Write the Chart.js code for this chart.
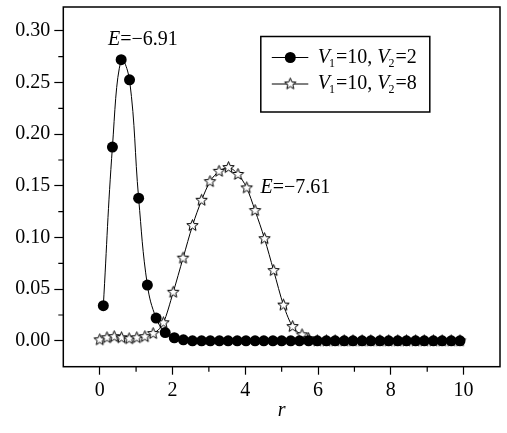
<!DOCTYPE html>
<html>
<head>
<meta charset="utf-8">
<script src="https://cdn.jsdelivr.net/npm/chart.js@4/dist/chart.umd.min.js"></script>
<style>
html,body{margin:0;padding:0;background:#fff;}
#wrap{width:507px;height:433px;}
</style>
</head>
<body>
<div id="wrap"><canvas id="c" width="507" height="433"></canvas></div>
<script>
// ---- data ----
const circleR = [0.10,0.35,0.59,0.82,1.07,1.31,1.55,1.80,2.05,2.30,2.55,2.80,3.04,3.29,3.53,3.78,4.02,4.27,4.51,4.76,5.00,5.25,5.49,5.74,5.98,6.23,6.47,6.72,6.96,7.21,7.45,7.70,7.94,8.19,8.43,8.68,8.92,9.17,9.41,9.66,9.90];
const circleV = [0.034,0.1875,0.272,0.2525,0.138,0.054,0.022,0.008,0.003,0.001,0,0,0,0,0,0,0,0,0,0,0,0,0,0,0,0,0,0,0,0,0,0,0,0,0,0,0,0,0,0,0];
const starR = [0.00,0.20,0.40,0.60,0.81,1.02,1.24,1.47,1.75,2.02,2.29,2.55,2.80,3.03,3.28,3.54,3.80,4.04,4.27,4.53,4.78,5.05,5.30,5.56,5.74,5.98,6.23,6.47,6.72,6.96,7.21,7.45,7.70,7.94,8.19,8.43,8.68,8.92,9.17,9.41,9.66,9.90];
const starV = [0.001,0.003,0.004,0.003,0.002,0.003,0.004,0.007,0.0175,0.047,0.080,0.1115,0.136,0.154,0.164,0.1676,0.161,0.148,0.126,0.0988,0.068,0.0346,0.0138,0.0058,0.002,0,0,0,0,0,0,0,0,0,0,0,0,0,0,0,0,0];
const xTicks = [0,2,4,6,8,10];
const xMinor = [1,3,5,7,9];
const yTicks = [0,0.05,0.10,0.15,0.20,0.25,0.30];
const yMinor = [0.025,0.075,0.125,0.175,0.225,0.275];
const seriesLabels = [["V","1","=10, ","V","2","=2"],["V","1","=10, ","V","2","=8"]];
const energyLabels = [{text:"=\u22126.91", r:0.23, v:0.2916},{text:"=\u22127.61", r:4.42, v:0.148}];

const SERIF = '"Liberation Serif","DejaVu Serif",serif';
const FS = 20;

function makeStar(outer, inner){
  const s = Math.ceil(outer*2+3);
  const cv = document.createElement('canvas');
  cv.width = s; cv.height = s;
  const g = cv.getContext('2d');
  g.translate(s/2, s/2);
  g.beginPath();
  for(let i=0;i<10;i++){
    const rr = i%2===0 ? outer : inner;
    const a = -Math.PI/2 + i*Math.PI/5;
    const px = rr*Math.cos(a), py = rr*Math.sin(a);
    if(i===0) g.moveTo(px,py); else g.lineTo(px,py);
  }
  g.closePath();
  g.fillStyle = '#fff'; g.fill();
  g.strokeStyle = '#000'; g.lineWidth = 1; g.stroke();
  return cv;
}
const starImg = makeStar(6, 2.6);

const decor = {
  id:'decor',
  afterDraw(chart){
    const ctx = chart.ctx, a = chart.chartArea;
    const xs = chart.scales.x, ys = chart.scales.y;
    ctx.save();
    ctx.strokeStyle = '#000'; ctx.lineWidth = 1.5;
    ctx.strokeRect(a.left, a.top, a.right-a.left, a.bottom-a.top);
    // minor ticks
    ctx.lineWidth = 1.2;
    ctx.beginPath();
    xMinor.forEach(v=>{const p = xs.getPixelForValue(v); ctx.moveTo(p, a.bottom); ctx.lineTo(p, a.bottom+5);});
    yMinor.forEach(v=>{const p = ys.getPixelForValue(v); ctx.moveTo(a.left, p); ctx.lineTo(a.left-5, p);});
    ctx.stroke();
    // energy labels
    ctx.fillStyle = '#000';
    ctx.textBaseline = 'middle';
    energyLabels.forEach(e=>{
      let px = xs.getPixelForValue(e.r), py = ys.getPixelForValue(e.v);
      ctx.font = 'italic '+FS+'px '+SERIF;
      ctx.fillText('E', px, py);
      px += ctx.measureText('E').width;
      ctx.font = FS+'px '+SERIF;
      ctx.fillText(e.text, px, py);
    });
    // legend
    const bx = a.left + 197.5, by = a.top + 29.5, bw = 169, bh = 75.5;
    ctx.lineWidth = 1.5;
    ctx.strokeRect(bx, by, bw, bh);
    const rows = [by+21, by+47.5];
    rows.forEach((ry, i)=>{
      ctx.lineWidth = 1;
      ctx.beginPath(); ctx.moveTo(bx+11, ry); ctx.lineTo(bx+47.5, ry); ctx.stroke();
      const mx = bx+29.5;
      if(i===0){
        ctx.beginPath(); ctx.arc(mx, ry, 5.5, 0, Math.PI*2); ctx.fillStyle='#000'; ctx.fill();
      } else {
        ctx.drawImage(starImg, mx-starImg.width/2, ry-starImg.height/2);
      }
      ctx.fillStyle = '#000';
      let tx = bx + 57;
      seriesLabels[i].forEach((part, k)=>{
        if(k===0 || k===3){
          ctx.font = 'italic '+FS+'px '+SERIF;
          ctx.fillText(part, tx, ry); tx += ctx.measureText(part).width;
        } else if(k===1 || k===4){
          ctx.font = '12px '+SERIF;
          ctx.fillText(part, tx-1, ry+6); tx += ctx.measureText(part).width;
        } else {
          ctx.font = FS+'px '+SERIF;
          ctx.fillText(part, tx, ry); tx += ctx.measureText(part).width;
        }
      });
    });
    ctx.restore();
  }
};

new Chart(document.getElementById('c'), {
  type:'scatter',
  data:{
    datasets:[
      {
        label:'V1=10, V2=2',
        data: circleR.map((r,i)=>({x:r, y:circleV[i]})),
        showLine:true, borderColor:'#000', borderWidth:1,
        pointStyle:'circle', pointRadius:5.5, pointBackgroundColor:'#000', pointBorderColor:'#000', pointBorderWidth:0,
        tension:0.4
      },
      {
        label:'V1=10, V2=8',
        data: starR.map((r,i)=>({x:r, y:starV[i]})),
        showLine:true, borderColor:'#000', borderWidth:1,
        pointStyle: starImg, pointRadius:6,
        cubicInterpolationMode:'monotone'
      }
    ]
  },
  options:{
    responsive:false, animation:false, devicePixelRatio:1,
    layout:{padding:{top:3, right:3, left:0, bottom:10}},
    plugins:{legend:{display:false}, tooltip:{enabled:false}},
    scales:{
      x:{
        type:'linear', min:-1, max:11,
        afterBuildTicks(s){ s.ticks = xTicks.map(v=>({value:v})); },
        afterFit(s){ s.height = 56.3; s.paddingLeft = 0; s.paddingRight = 0; },
        ticks:{ font:{family:SERIF, size:FS}, color:'#000', padding:4, maxRotation:0, autoSkip:false },
        grid:{ drawOnChartArea:false, drawTicks:true, tickLength:8, tickColor:'#000', tickWidth:1.2, color:'#000' },
        border:{ display:false },
        title:{ display:true, text:'r', font:{family:SERIF, size:FS, style:'italic'}, color:'#000', padding:{top:2,bottom:0} }
      },
      y:{
        type:'linear', min:-0.025, max:0.323,
        afterBuildTicks(s){ s.ticks = yTicks.map(v=>({value:v})); },
        afterFit(s){ s.width = 63.3; s.paddingTop = 0; s.paddingBottom = 0; },
        ticks:{ font:{family:SERIF, size:FS}, color:'#000', padding:4, callback:(v)=>Number(v).toFixed(2) },
        grid:{ drawOnChartArea:false, drawTicks:true, tickLength:9, tickColor:'#000', tickWidth:1.2, color:'#000' },
        border:{ display:false }
      }
    }
  },
  plugins:[decor]
});
</script>
</body>
</html>
